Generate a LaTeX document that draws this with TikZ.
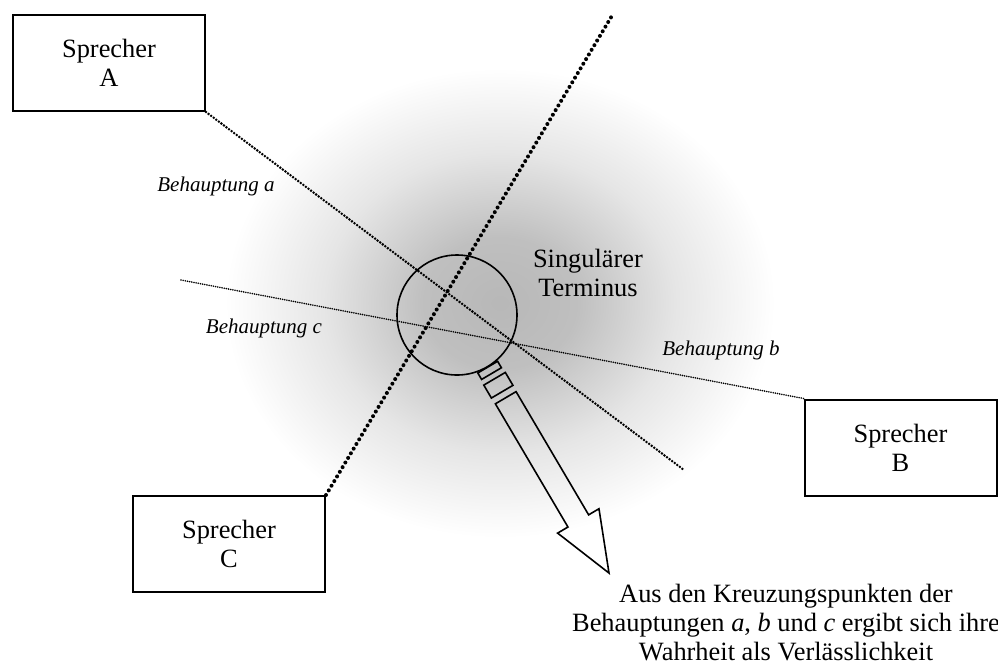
\documentclass[tikz,border=0pt]{standalone}
\usepackage{fontspec}
\setmainfont{Liberation Serif}
\usepackage{tikz}
\usetikzlibrary{positioning}

\pgfdeclareradialshading{hof}{\pgfpoint{0bp}{0bp}}{color(0bp)=(black!28); color(7bp)=(black!25); color(16bp)=(black!10); color(25bp)=(white); color(50bp)=(white)}

\tikzset{
  haupt/.style={font=\fontsize{13.2}{14.5}\selectfont, align=center},
  sprecher/.style={haupt, draw, line width=1pt, minimum width=96pt, minimum height=48pt, inner sep=0pt},
  behauptung/.style={font=\fontsize{10.5}{12}\selectfont\itshape},
  punktdick/.style={line width=2pt, line cap=round, dash pattern=on 0pt off 2.7pt},
  punktmittel/.style={line width=1.4pt, line cap=round, dash pattern=on 0pt off 1.6pt},
  punktduenn/.style={line width=0.9pt, line cap=round, dash pattern=on 0pt off 1.1pt}
}

\begin{document}
\begin{tikzpicture}[x=0.5pt,y=-0.5pt]
\useasboundingbox (0,0) rectangle (998,666);

% grauer Hof
\shade[shading=hof] (500,303) ellipse (275 and 235);

\node[sprecher] (spA) at (109,63) {Sprecher\\A};
\node[sprecher] (spB) at (900.5,447.5) {Sprecher\\B};
\node[sprecher] (spC) at (229,544) {Sprecher\\C};

\coordinate (endA) at (684,470);
\coordinate (endC) at (613,14);
\coordinate (endB) at (181,280);

\draw[punktmittel] (spA.south east) -- (endA);
\draw[punktdick] (spC.north east) -- (endC);
\draw[punktduenn] (endB) -- (spB.north west);

\node[behauptung] (labA) at (216,186) {Behauptung a};
\node[behauptung] (labB) at (721,350) {Behauptung b};
\node[behauptung] (labC) at (264,328) {Behauptung c};

\node[haupt] (term) at (588,273) {Singulärer\\Terminus};

% Lupe
\node[draw, circle, line width=0.8pt, minimum size=60pt, inner sep=0pt] (lupe) at (457,315) {};
\begin{scope}[shift={(lupe.center)}, rotate=-59.5, line width=0.8pt]
\draw (60.5,-11.5) rectangle (68,11.5);
\draw (74,-12.5) rectangle (89,12.5);
\draw (96,-12) -- (239,-12) -- (239,-24) -- (299.5,0) -- (239,24) -- (239,12) -- (96,12) -- cycle;
\end{scope}

\node[haupt] (fazit) at (786,623) {Aus den Kreuzungspunkten der\\Behauptungen \textit{a}, \textit{b} und \textit{c} ergibt sich ihre\\Wahrheit als Verlässlichkeit};

\end{tikzpicture}
\end{document}
